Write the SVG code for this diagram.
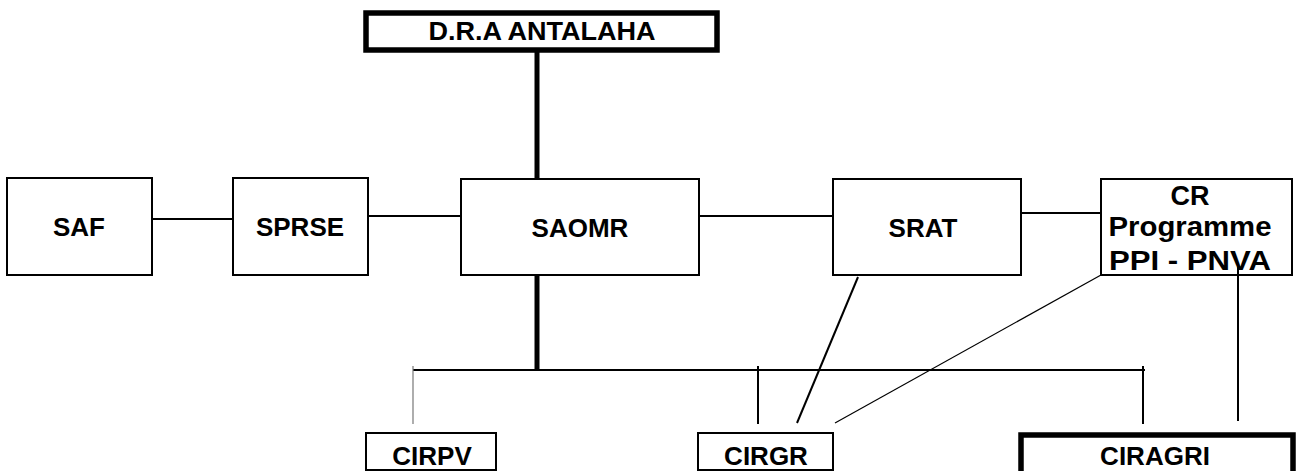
<svg xmlns="http://www.w3.org/2000/svg" width="1297" height="471" viewBox="0 0 1297 471">
<style>
.box{fill:#fff;stroke:#000;stroke-width:2}
.thickbox{fill:#fff;stroke:#000;stroke-width:5.5}
.lbl{font-family:"Liberation Sans",Arial,sans-serif;font-weight:bold;font-size:26px;fill:#000;text-anchor:middle}
.big{font-size:27px}
.ln{stroke:#000;stroke-width:2;fill:none}
.thick{stroke:#000;stroke-width:5;fill:none}
.thin{stroke:#000;stroke-width:1.2;fill:none}
.gray{stroke:#777;stroke-width:1.2;fill:none}
</style>
<rect width="1297" height="471" fill="#fff"/>
<g id="connectors">
<line class="thick" x1="537" y1="50" x2="537" y2="180"/>
<line class="thick" x1="537" y1="275" x2="537" y2="371"/>
<line class="ln" x1="152" y1="219" x2="233" y2="219"/>
<line class="ln" x1="365" y1="216" x2="461" y2="216"/>
<line class="ln" x1="699" y1="216" x2="833" y2="216"/>
<line class="ln" x1="1021" y1="213" x2="1101" y2="213"/>
<line class="ln" x1="413" y1="370" x2="1145" y2="370"/>
<line class="gray" x1="413" y1="366" x2="413" y2="424"/>
<line class="ln" x1="758" y1="366" x2="758" y2="424"/>
<line class="ln" x1="1143" y1="366" x2="1143" y2="424"/>
<line class="ln" x1="858" y1="277" x2="797" y2="423"/>
<line class="thin" x1="1101" y1="275" x2="835" y2="423"/>
<line class="ln" x1="1238" y1="267" x2="1238" y2="421"/>
</g>
<g id="dra">
<rect class="thickbox" x="366" y="13" width="351" height="37"/>
<text class="lbl" x="542" y="40" textLength="227" lengthAdjust="spacingAndGlyphs">D.R.A ANTALAHA</text>
</g>
<g id="saf">
<rect class="box" x="7" y="178" width="145" height="97"/>
<text class="lbl" x="79" y="236">SAF</text>
</g>
<g id="sprse">
<rect class="box" x="233" y="178" width="135" height="97"/>
<text class="lbl" x="300" y="236">SPRSE</text>
</g>
<g id="saomr">
<rect class="box" x="461" y="179" width="238" height="96"/>
<text class="lbl" x="580" y="237">SAOMR</text>
</g>
<g id="srat">
<rect class="box" x="833" y="179" width="188" height="96"/>
<text class="lbl" x="923" y="237">SRAT</text>
</g>
<g id="cr">
<rect class="box" x="1101" y="179" width="191" height="96"/>
<text class="lbl big" x="1190" y="205">CR</text>
<text class="lbl big" x="1190" y="236" textLength="163" lengthAdjust="spacingAndGlyphs">Programme</text>
<line class="ln" x1="1238" y1="267" x2="1238" y2="275"/>
<text class="lbl big" x="1190" y="270" textLength="162" lengthAdjust="spacingAndGlyphs">PPI - PNVA</text>
</g>
<g id="cirpv">
<rect class="box" x="366" y="433" width="130" height="37"/>
<text class="lbl" x="432" y="465">CIRPV</text>
</g>
<g id="cirgr">
<rect class="box" x="698" y="433" width="135" height="37"/>
<text class="lbl" x="766" y="465">CIRGR</text>
</g>
<g id="ciragri">
<rect class="thickbox" x="1021" y="435" width="272" height="40"/>
<text class="lbl" x="1155" y="465">CIRAGRI</text>
</g>
</svg>
